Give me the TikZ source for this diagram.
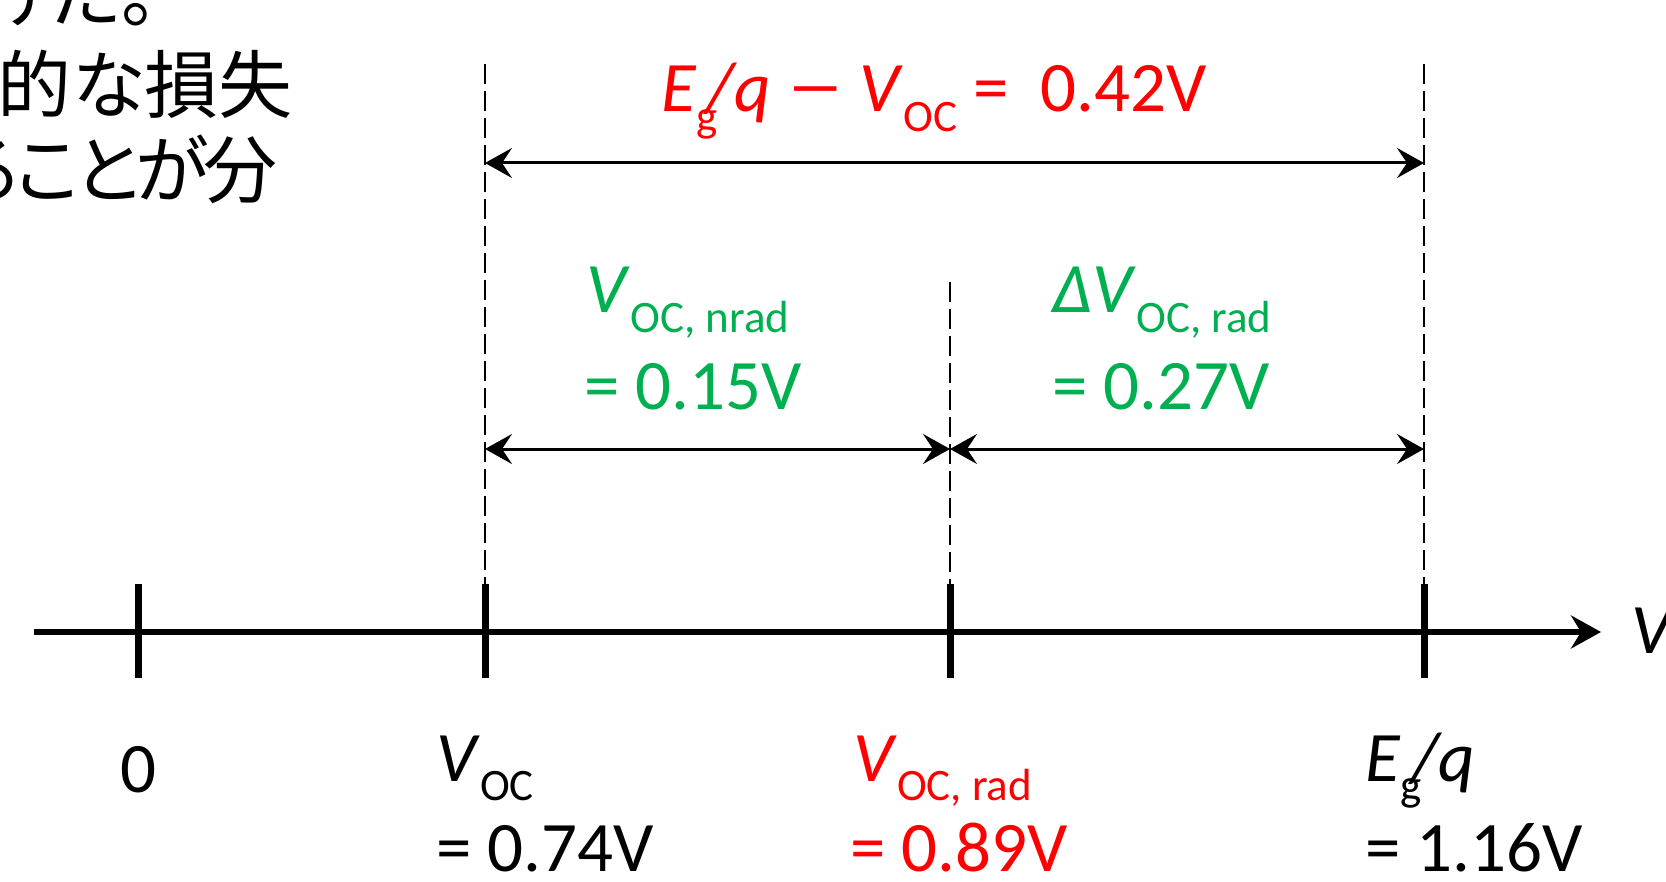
\documentclass[tikz,border=0pt]{standalone}
\usepackage{fontspec}
\setmainfont{Carlito}
\newfontfamily\jpfont{Noto Sans CJK JP}[RawFeature=+palt]
\usetikzlibrary{arrows.meta}
\definecolor{lossred}{HTML}{FF0000}
\definecolor{lossgreen}{HTML}{00B050}
\newcommand{\sbs}[1]{\raisebox{-0.27em}{\fontsize{22.5}{26}\selectfont #1}}

\begin{document}
\begin{tikzpicture}[x=0.5pt, y=-0.5pt,
  lbl/.style={font=\fontsize{35.5}{42}\selectfont, inner sep=0pt},
  jp/.style={font=\jpfont\fontsize{37}{44}\selectfont, inner sep=0pt, anchor=base east},
  vaxis/.style={line width=3pt, -{Stealth[length=15pt,width=16.5pt,inset=5pt]}},
  tickmark/.style={line width=3.5pt},
  guide/.style={line width=0.75pt, dash pattern=on 10pt off 3.5pt},
  dim/.style={line width=1.5pt,
    {Stealth[length=13.5pt,width=15pt,inset=5pt]}-{Stealth[length=13.5pt,width=15pt,inset=5pt]}}
]
  \useasboundingbox (0,0) rectangle (1666,882);

  % text cut off at the left edge
  \node[jp] (jp1) at (158,22) {けた。};
  \node[jp] (jp2) at (293,113) {的な損失};
  \node[jp] (jp3) at (278,198) {る\kern-0.06em こ\kern-0.06em と\kern-0.06em が\kern-0.06em 分};

  % voltage axis
  \coordinate (ax0) at (34,632);
  \coordinate (ax1) at (1601,632);
  \draw[vaxis] (ax0) -- (ax1);
  \foreach \n/\x in {t0/138, tv/485, tr/950, tg/1424} {
    \coordinate (\n) at (\x,632);
    \draw[tickmark] (\x,584) -- (\x,678);
  }
  \node[lbl, anchor=base west] (vlbl) at (1631,653) {\textit{V}};

  % guides
  \coordinate (dv) at (485,64);
  \coordinate (dr) at (950,282);
  \coordinate (dg) at (1424,64);
  \draw[guide] (dv) -- ([yshift=24pt]tv);
  \draw[guide] (dr) -- ([yshift=24pt]tr);
  \draw[guide] (dg) -- ([yshift=24pt]tg);

  % loss arrows
  \coordinate (topL) at (485,163);
  \coordinate (topR) at (1424,163);
  \coordinate (lowL) at (485,449);
  \coordinate (lowM) at (950,449);
  \coordinate (lowR) at (1424,449);
  \draw[dim] (topL) -- (topR);
  \draw[dim] (lowL) -- (lowM);
  \draw[dim] (lowM) -- (lowR);

  \node[lbl, text=lossred, anchor=base] (gaplbl) at (934,112)
    {\textit{E}\sbs{g}\kern-0.15em\textit{/q} \scalebox{1.6}[1]{−} \textit{V}\sbs{OC} = \ 0.42V};
  \node[lbl, text=lossgreen, anchor=base] (nradsym) at (688,313) {\textit{V}\sbs{OC, nrad}};
  \node[lbl, text=lossgreen, anchor=base] (nradval) at (693,409) {= 0.15V};
  \node[lbl, text=lossgreen, anchor=base] (radsym) at (1162,313) {\textit{ΔV}\sbs{OC, rad}};
  \node[lbl, text=lossgreen, anchor=base] (radval) at (1161,409) {= 0.27V};

  % values on the axis
  \node[lbl, anchor=base] (zero) at (138,792) {0};
  \node[lbl, anchor=base west] (vocsym) at (436,781) {\textit{V}\sbs{OC}};
  \node[lbl, anchor=base west] (vocval) at (436,871) {= 0.74V};
  \node[lbl, text=lossred, anchor=base west] (vradsym) at (853,781) {\textit{V}\sbs{OC, rad}};
  \node[lbl, text=lossred, anchor=base west] (vradval) at (850,871) {= 0.89V};
  \node[lbl, anchor=base west] (egsym) at (1365,781) {\textit{E}\sbs{g}\kern-0.15em\textit{/q}};
  \node[lbl, anchor=base west] (egval) at (1365,871) {= 1.16V};
\end{tikzpicture}
\end{document}
